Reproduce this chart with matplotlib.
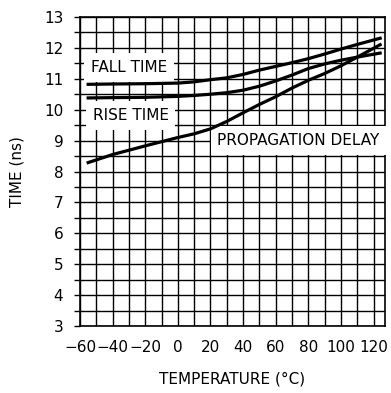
import numpy as np
import matplotlib.pyplot as plt

# data
temp = [-55, -40, -20, 0, 10, 20, 30, 40, 50, 60, 70, 80, 90, 100, 110, 124]
fall_time = [10.82, 10.83, 10.84, 10.86, 10.90, 10.97, 11.03, 11.14, 11.28, 11.40,
             11.52, 11.65, 11.80, 11.96, 12.11, 12.31]
rise_time = [10.38, 10.39, 10.40, 10.43, 10.46, 10.50, 10.55, 10.63, 10.76, 10.93,
             11.12, 11.33, 11.48, 11.60, 11.70, 11.83]
prop_delay = [8.29, 8.55, 8.83, 9.10, 9.22, 9.38, 9.62, 9.90, 10.17, 10.42,
              10.70, 10.95, 11.17, 11.42, 11.70, 12.10]

x_ticks = [-60, -40, -20, 0, 20, 40, 60, 80, 100, 120]
y_ticks = [3, 4, 5, 6, 7, 8, 9, 10, 11, 12, 13]

fig = plt.figure(figsize=(3.91, 3.93), dpi=100)
ax = fig.add_axes([0.2046, 0.170, 0.7801, 0.787])

ax.set_xlim(-60, 127)
ax.set_ylim(3, 13)

# grid: every 10 degC and every 0.5 ns
ax.set_xticks(np.arange(-50, 127, 20), minor=True)
ax.set_yticks(np.arange(3.5, 13, 1.0), minor=True)
ax.set_xticks(x_ticks)
ax.set_yticks(y_ticks)
ax.grid(which="both", color="black", linewidth=1.0)
ax.set_xticklabels([str(v).replace("-", "\u2212") for v in x_ticks])
ax.tick_params(which="major", length=0, labelsize=11, pad=10)
ax.tick_params(axis="y", which="both", length=4, direction="out", width=1.0, pad=8)
ax.tick_params(axis="x", which="both", length=0)
for s in ax.spines.values():
    s.set_linewidth(1.2)

ax.plot(temp, fall_time, color="black", linewidth=2.3, zorder=5)
ax.plot(temp, rise_time, color="black", linewidth=2.3, zorder=5)
ax.plot(temp, prop_delay, color="black", linewidth=2.3, zorder=5)

box = dict(facecolor="white", edgecolor="none", pad=5)
ax.text(-30, 11.37, "FALL TIME", fontsize=11, ha="center", va="center", bbox=box, zorder=4)
ax.text(-29, 9.81, "RISE TIME", fontsize=11, ha="center", va="center", bbox=box, zorder=4)
ax.text(74, 9.0, "PROPAGATION DELAY", fontsize=11, ha="center", va="center", bbox=box, zorder=4)

ax.set_xlabel("TEMPERATURE (\u00b0C)", fontsize=11, labelpad=12)
ax.set_ylabel("TIME (ns)", fontsize=11, labelpad=14)

fig.savefig("out.png", dpi=100)
